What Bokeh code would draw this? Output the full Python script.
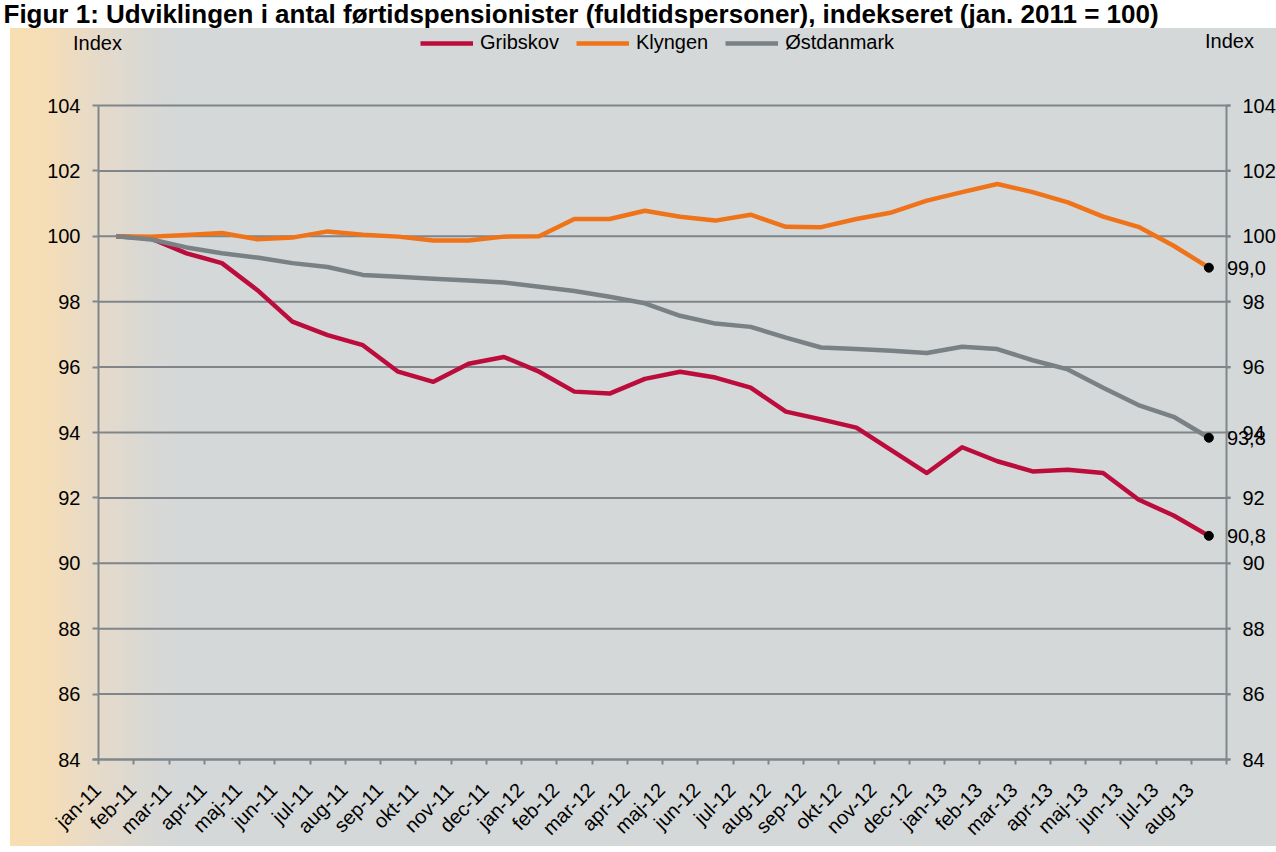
import math
from bokeh.plotting import figure
from bokeh.models import (FixedTicker, LinearAxis, Range1d, Legend, LegendItem,
                          Label, LabelSet, ColumnDataSource)
from bokeh.core.properties import value
from bokeh.embed import file_html
from bokeh.resources import INLINE

# ---------------- data ----------------
months = ["jan-11", "feb-11", "mar-11", "apr-11", "maj-11", "jun-11", "jul-11", "aug-11",
          "sep-11", "okt-11", "nov-11", "dec-11", "jan-12", "feb-12", "mar-12", "apr-12",
          "maj-12", "jun-12", "jul-12", "aug-12", "sep-12", "okt-12", "nov-12", "dec-12",
          "jan-13", "feb-13", "mar-13", "apr-13", "maj-13", "jun-13", "jul-13", "aug-13"]

gribskov = [100.0, 99.93, 99.48, 99.18, 98.36, 97.39, 96.98, 96.67, 95.86, 95.55, 96.10, 96.31,
            95.86, 95.25, 95.19, 95.64, 95.86, 95.68, 95.37, 94.64, 94.40, 94.15, 93.45, 92.76,
            93.55, 93.12, 92.81, 92.86, 92.76, 91.95, 91.46, 90.84]

klyngen = [100.0, 99.99, 100.04, 100.10, 99.91, 99.96, 100.15, 100.05, 99.99, 99.87, 99.87, 99.99,
           100.00, 100.53, 100.53, 100.78, 100.60, 100.48, 100.66, 100.29, 100.28, 100.53, 100.73, 101.09,
           101.35, 101.60, 101.35, 101.04, 100.60, 100.29, 99.71, 99.04]

ostdanmark = [100.0, 99.90, 99.66, 99.48, 99.35, 99.18, 99.06, 98.82, 98.76, 98.70, 98.65, 98.59,
              98.46, 98.33, 98.15, 97.95, 97.57, 97.33, 97.23, 96.90, 96.60, 96.55, 96.50, 96.43,
              96.62, 96.55, 96.21, 95.93, 95.37, 94.84, 94.48, 93.84]

series_names = ["Gribskov", "Klyngen", "Østdanmark"]
series_values = [gribskov, klyngen, ostdanmark]
series_colors = ["#BC0C3C", "#EF7318", "#7A8185"]

y_ticks = [84, 86, 88, 90, 92, 94, 96, 98, 100, 102, 104]
axis_title = "Index"
title_text = "Figur 1: Udviklingen i antal førtidspensionister (fuldtidspersoner), indekseret (jan. 2011 = 100)"

# ---------------- layout (pixels) ----------------
W, H = 1276, 852
AXL, AXR = 98.0, 1226.0      # pixel x of left / right value axes
AXT, AXB = 105.0, 759.0      # pixel y of top (104) / bottom (84)
n = len(months)
x_lo, x_hi = -0.5, n - 0.5
y_lo, y_hi = y_ticks[0], y_ticks[-1]
px_x = (AXR - AXL) / (x_hi - x_lo)
px_y = (AXB - AXT) / (y_hi - y_lo)


def dx(px):  # pixel x -> data x
    return x_lo + (px - AXL) / px_x


def dy(py):  # pixel y -> data y
    return y_hi - (py - AXT) / px_y


FONT = "Liberation Sans"
FS = "20px"
AX = "#80878B"
GRID = "#7F8589"

xs = list(range(n))

p = figure(width=W, height=H, output_backend="svg", toolbar_location=None,
           x_range=Range1d(dx(0), dx(W)), y_range=Range1d(dy(H), dy(0)),
           x_axis_location=None, y_axis_location=None, min_border=0)
p.border_fill_alpha = 0
p.background_fill_alpha = 0
p.outline_line_color = None
p.grid.visible = False
p.styles = {
    "background": "linear-gradient(#ffffff, #ffffff) top left / 100% 28px no-repeat, "
                  "linear-gradient(#ffffff, #ffffff) bottom left / 100% 6px no-repeat, "
                  "linear-gradient(to right, #ffffff 0px, #ffffff 10px, #F9DEB2 10px, #F4DDB8 50px, "
                  "#E5DACA 100px, #D8D8D5 150px, #D4D8D9 185px, #D4D8D9 100%)"
}

# horizontal gridlines (from tick list)
p.segment(x0=[x_lo] * len(y_ticks), x1=[dx(AXR + 4)] * len(y_ticks), y0=y_ticks, y1=y_ticks,
          line_color=GRID, line_width=2)

# x axis (categories) -- fixed at bottom of value range
lab_shift = 0.53
xa = LinearAxis(fixed_location=y_lo, bounds=(dx(AXL - 6), x_hi))
xa.ticker = FixedTicker(ticks=[i - lab_shift for i in xs], minor_ticks=[i - 0.5 for i in range(n + 1)])
xa.major_label_overrides = {i - lab_shift: m for i, m in enumerate(months)}
xa.major_label_orientation = math.pi / 4
xa.major_tick_out = 0
xa.major_tick_in = 0
xa.minor_tick_out = 5
xa.minor_tick_in = 0
xa.minor_tick_line_color = AX
xa.minor_tick_line_width = 2
xa.axis_line_color = AX
xa.axis_line_width = 2
xa.major_label_text_font = FONT
xa.major_label_text_font_size = FS
xa.major_label_text_color = "#000000"
xa.major_label_standoff = 22
p.add_layout(xa, "below")


def value_axis(loc, tick_out):
    a = LinearAxis(fixed_location=loc, bounds=(y_lo, y_hi), ticker=FixedTicker(ticks=y_ticks))
    a.major_tick_out = tick_out
    a.major_tick_in = 0
    a.minor_tick_out = 0
    a.minor_tick_in = 0
    a.major_tick_line_color = AX
    a.major_tick_line_width = 2
    a.axis_line_color = AX
    a.axis_line_width = 2
    a.major_label_text_font = FONT
    a.major_label_text_font_size = FS
    a.major_label_text_color = "#000000"
    a.major_label_standoff = 12
    return a


p.add_layout(value_axis(x_lo, 6), "left")
p.add_layout(value_axis(x_hi, 4), "right")

# lines
items = []
for name, vals, col in zip(series_names, series_values, series_colors):
    r = p.line(xs, vals, line_color=col, line_width=4.5, line_join="round")
    items.append(LegendItem(label=name, renderers=[r]))

legend = Legend(items=items, orientation="horizontal", location=(420, H - 54),
                glyph_width=53, glyph_height=20, label_height=20, label_standoff=7, spacing=17,
                padding=0, margin=0, border_line_alpha=0, background_fill_alpha=0,
                label_text_font=FONT, label_text_font_size=FS, label_text_color="#000000")
p.add_layout(legend)

# end points and their labels
last_x = [xs[-1]] * len(series_values)
last_y = [v[-1] for v in series_values]
end_src = ColumnDataSource(dict(x=last_x, y=last_y,
                                t=[f"{v:.1f}".replace(".", ",") for v in last_y]))
p.scatter("x", "y", source=end_src, size=9, color="#000000")
p.add_layout(LabelSet(x="x", y="y", text="t", source=end_src, x_offset=18,
                      text_baseline="middle", text_align="left", text_font=value(FONT),
                      text_font_size=value(FS), text_color="#000000"))

# axis titles
p.add_layout(Label(x=dx(97), y=dy(42), text=axis_title, text_align="center", text_baseline="middle",
                   text_font=FONT, text_font_size=FS, text_color="#000000"))
p.add_layout(Label(x=dx(1229), y=dy(40), text=axis_title, text_align="center",
                   text_baseline="middle", text_font=FONT, text_font_size=FS, text_color="#000000"))

# title
p.add_layout(Label(x=dx(3), y=dy(13.5), text=title_text, text_align="left", text_baseline="middle",
                   text_font=FONT, text_font_style="bold", text_font_size="26px", text_color="#000000"))

open("out.html", "w").write(file_html(p, INLINE))
